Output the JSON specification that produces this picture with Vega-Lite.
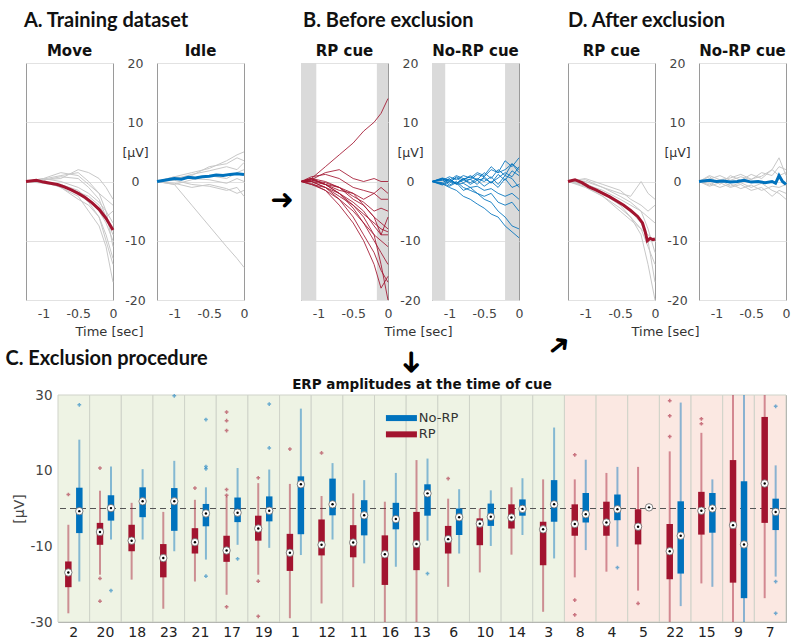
{
"$schema":"https://vega.github.io/schema/vega-lite/v6.json",
"background":"white",
"padding":{"left":5,"top":10,"right":0,"bottom":0},
"config":{
 "view":{"stroke":"#9a9a9a"},
 "font":"DejaVu Sans",
 "axis":{"labelFont":"DejaVu Sans","titleFont":"DejaVu Sans","labelColor":"#444","titleColor":"#333","ticks":false,"tickSize":0,"domain":false,"titleFontWeight":"normal","gridColor":"#e2e2e2","labelOverlap":false,"labelFlush":false,"labelExpr":"toString(datum.value)"},
 "title":{"font":"DejaVu Sans","color":"#111"}
},
"datasets":{
"sh":[{"p":"B1","t":-1.25,"t2":-1.03},{"p":"B1","t":-0.16,"t2":0},{"p":"B2","t":-1.25,"t2":-1.06},{"p":"B2","t":-0.2,"t2":0}],
"tr":[
{"p":"A1","k":"g1","t":-1.25,"v":0},{"p":"A1","k":"g1","t":-1,"v":0.5},{"p":"A1","k":"g1","t":-0.75,"v":1.5},{"p":"A1","k":"g1","t":-0.5,"v":1},{"p":"A1","k":"g1","t":-0.35,"v":-0.5},{"p":"A1","k":"g1","t":-0.2,"v":-2},{"p":"A1","k":"g1","t":-0.1,"v":-3},{"p":"A1","k":"g1","t":0,"v":-4},
{"p":"A1","k":"g2","t":-1.25,"v":0},{"p":"A1","k":"g2","t":-1,"v":0.3},{"p":"A1","k":"g2","t":-0.75,"v":0.5},{"p":"A1","k":"g2","t":-0.5,"v":2},{"p":"A1","k":"g2","t":-0.35,"v":1.5},{"p":"A1","k":"g2","t":-0.2,"v":0.5},{"p":"A1","k":"g2","t":-0.1,"v":-1},{"p":"A1","k":"g2","t":0,"v":-3},
{"p":"A1","k":"g3","t":-1.25,"v":0},{"p":"A1","k":"g3","t":-1,"v":0},{"p":"A1","k":"g3","t":-0.75,"v":-0.5},{"p":"A1","k":"g3","t":-0.5,"v":-1.5},{"p":"A1","k":"g3","t":-0.35,"v":-3},{"p":"A1","k":"g3","t":-0.2,"v":-5},{"p":"A1","k":"g3","t":-0.1,"v":-7},{"p":"A1","k":"g3","t":0,"v":-10},
{"p":"A1","k":"g4","t":-1.25,"v":0},{"p":"A1","k":"g4","t":-1,"v":0.2},{"p":"A1","k":"g4","t":-0.75,"v":-1},{"p":"A1","k":"g4","t":-0.5,"v":-3},{"p":"A1","k":"g4","t":-0.35,"v":-4},{"p":"A1","k":"g4","t":-0.2,"v":-6},{"p":"A1","k":"g4","t":-0.1,"v":-9},{"p":"A1","k":"g4","t":0,"v":-13},
{"p":"A1","k":"g5","t":-1.25,"v":0},{"p":"A1","k":"g5","t":-1,"v":-0.3},{"p":"A1","k":"g5","t":-0.75,"v":-0.8},{"p":"A1","k":"g5","t":-0.5,"v":-2},{"p":"A1","k":"g5","t":-0.35,"v":-3.5},{"p":"A1","k":"g5","t":-0.2,"v":-6},{"p":"A1","k":"g5","t":-0.1,"v":-10},{"p":"A1","k":"g5","t":0,"v":-14},
{"p":"A1","k":"g6","t":-1.25,"v":0},{"p":"A1","k":"g6","t":-1,"v":0.5},{"p":"A1","k":"g6","t":-0.75,"v":0},{"p":"A1","k":"g6","t":-0.5,"v":-1},{"p":"A1","k":"g6","t":-0.35,"v":-2},{"p":"A1","k":"g6","t":-0.2,"v":-3.5},{"p":"A1","k":"g6","t":-0.1,"v":-5},{"p":"A1","k":"g6","t":0,"v":-7},
{"p":"A1","k":"g7","t":-1.25,"v":0},{"p":"A1","k":"g7","t":-1,"v":0},{"p":"A1","k":"g7","t":-0.75,"v":-1},{"p":"A1","k":"g7","t":-0.5,"v":-2.5},{"p":"A1","k":"g7","t":-0.35,"v":-5},{"p":"A1","k":"g7","t":-0.2,"v":-7.5},{"p":"A1","k":"g7","t":-0.1,"v":-11},{"p":"A1","k":"g7","t":0,"v":-17},
{"p":"A1","k":"g8","t":-1.25,"v":0},{"p":"A1","k":"g8","t":-1,"v":0.2},{"p":"A1","k":"g8","t":-0.75,"v":0.8},{"p":"A1","k":"g8","t":-0.5,"v":0.5},{"p":"A1","k":"g8","t":-0.35,"v":-1},{"p":"A1","k":"g8","t":-0.2,"v":-3},{"p":"A1","k":"g8","t":-0.1,"v":-6},{"p":"A1","k":"g8","t":0,"v":-9},
{"p":"A1","k":"g9","t":-1.25,"v":0},{"p":"A1","k":"g9","t":-1,"v":-0.2},{"p":"A1","k":"g9","t":-0.75,"v":-0.5},{"p":"A1","k":"g9","t":-0.5,"v":-1.8},{"p":"A1","k":"g9","t":-0.35,"v":-2.5},{"p":"A1","k":"g9","t":-0.2,"v":-4},{"p":"A1","k":"g9","t":-0.1,"v":-6},{"p":"A1","k":"g9","t":0,"v":-5},
{"p":"A1","k":"g10","t":-1.25,"v":0},{"p":"A1","k":"g10","t":-1,"v":0.4},{"p":"A1","k":"g10","t":-0.75,"v":1},{"p":"A1","k":"g10","t":-0.5,"v":1.5},{"p":"A1","k":"g10","t":-0.35,"v":0},{"p":"A1","k":"g10","t":-0.2,"v":-2},{"p":"A1","k":"g10","t":-0.1,"v":-5},{"p":"A1","k":"g10","t":0,"v":-11},
{"p":"A1","k":"m","t":-1.25,"v":0},{"p":"A1","k":"m","t":-1.1,"v":0.2},{"p":"A1","k":"m","t":-1,"v":-0.1},{"p":"A1","k":"m","t":-0.9,"v":-0.3},{"p":"A1","k":"m","t":-0.8,"v":-0.5},{"p":"A1","k":"m","t":-0.7,"v":-0.9},{"p":"A1","k":"m","t":-0.6,"v":-1.4},{"p":"A1","k":"m","t":-0.5,"v":-2},{"p":"A1","k":"m","t":-0.4,"v":-2.7},{"p":"A1","k":"m","t":-0.3,"v":-3.6},{"p":"A1","k":"m","t":-0.2,"v":-4.7},{"p":"A1","k":"m","t":-0.1,"v":-6.2},{"p":"A1","k":"m","t":0,"v":-8.2},
{"p":"A2","k":"h1","t":-1.25,"v":0},{"p":"A2","k":"h1","t":-1,"v":0.8},{"p":"A2","k":"h1","t":-0.75,"v":1.5},{"p":"A2","k":"h1","t":-0.5,"v":2.2},{"p":"A2","k":"h1","t":-0.25,"v":3.5},{"p":"A2","k":"h1","t":-0.1,"v":4.5},{"p":"A2","k":"h1","t":0,"v":5},
{"p":"A2","k":"h2","t":-1.25,"v":0},{"p":"A2","k":"h2","t":-1,"v":0.5},{"p":"A2","k":"h2","t":-0.75,"v":1},{"p":"A2","k":"h2","t":-0.5,"v":2.5},{"p":"A2","k":"h2","t":-0.25,"v":3},{"p":"A2","k":"h2","t":-0.1,"v":4},{"p":"A2","k":"h2","t":0,"v":3.5},
{"p":"A2","k":"h3","t":-1.25,"v":0},{"p":"A2","k":"h3","t":-1,"v":-0.5},{"p":"A2","k":"h3","t":-0.75,"v":0.3},{"p":"A2","k":"h3","t":-0.5,"v":1},{"p":"A2","k":"h3","t":-0.25,"v":0.5},{"p":"A2","k":"h3","t":-0.1,"v":1.5},{"p":"A2","k":"h3","t":0,"v":2},
{"p":"A2","k":"h4","t":-1.25,"v":0},{"p":"A2","k":"h4","t":-1,"v":0.2},{"p":"A2","k":"h4","t":-0.75,"v":-0.5},{"p":"A2","k":"h4","t":-0.5,"v":-0.8},{"p":"A2","k":"h4","t":-0.25,"v":-1.5},{"p":"A2","k":"h4","t":-0.1,"v":-1},{"p":"A2","k":"h4","t":0,"v":-2.5},
{"p":"A2","k":"h5","t":-1.25,"v":0},{"p":"A2","k":"h5","t":-1,"v":0.8},{"p":"A2","k":"h5","t":-0.75,"v":0.5},{"p":"A2","k":"h5","t":-0.5,"v":0.3},{"p":"A2","k":"h5","t":-0.25,"v":-0.3},{"p":"A2","k":"h5","t":-0.1,"v":0.5},{"p":"A2","k":"h5","t":0,"v":0},
{"p":"A2","k":"h6","t":-1.25,"v":0},{"p":"A2","k":"h6","t":-1,"v":0.4},{"p":"A2","k":"h6","t":-0.75,"v":1.2},{"p":"A2","k":"h6","t":-0.5,"v":1.8},{"p":"A2","k":"h6","t":-0.25,"v":2.5},{"p":"A2","k":"h6","t":-0.1,"v":2},{"p":"A2","k":"h6","t":0,"v":3.2},
{"p":"A2","k":"h7","t":-1.25,"v":0},{"p":"A2","k":"h7","t":-1,"v":-0.3},{"p":"A2","k":"h7","t":-0.75,"v":-1},{"p":"A2","k":"h7","t":-0.5,"v":-0.5},{"p":"A2","k":"h7","t":-0.25,"v":-1.2},{"p":"A2","k":"h7","t":-0.1,"v":-2},{"p":"A2","k":"h7","t":0,"v":-1.5},
{"p":"A2","k":"h8","t":-1.25,"v":0},{"p":"A2","k":"h8","t":-1,"v":-0.5},{"p":"A2","k":"h8","t":-0.75,"v":-4},{"p":"A2","k":"h8","t":-0.5,"v":-7.5},{"p":"A2","k":"h8","t":-0.25,"v":-11},{"p":"A2","k":"h8","t":-0.1,"v":-13},{"p":"A2","k":"h8","t":0,"v":-14.5},
{"p":"A2","k":"m","t":-1.25,"v":0},{"p":"A2","k":"m","t":-1.1,"v":0.3},{"p":"A2","k":"m","t":-1,"v":0.5},{"p":"A2","k":"m","t":-0.9,"v":0.4},{"p":"A2","k":"m","t":-0.8,"v":0.7},{"p":"A2","k":"m","t":-0.7,"v":0.6},{"p":"A2","k":"m","t":-0.6,"v":0.8},{"p":"A2","k":"m","t":-0.5,"v":0.9},{"p":"A2","k":"m","t":-0.4,"v":1.1},{"p":"A2","k":"m","t":-0.3,"v":1},{"p":"A2","k":"m","t":-0.2,"v":1.2},{"p":"A2","k":"m","t":-0.1,"v":1.3},{"p":"A2","k":"m","t":0,"v":1.2},
{"p":"B1","k":"u","t":-1.25,"v":0},{"p":"B1","k":"u","t":-1.1,"v":0.5},{"p":"B1","k":"u","t":-0.9,"v":2.5},{"p":"B1","k":"u","t":-0.7,"v":4.5},{"p":"B1","k":"u","t":-0.5,"v":6.5},{"p":"B1","k":"u","t":-0.35,"v":8.5},{"p":"B1","k":"u","t":-0.2,"v":10},{"p":"B1","k":"u","t":-0.1,"v":11.5},{"p":"B1","k":"u","t":0,"v":14},
{"p":"B1","k":"a","t":-1.25,"v":0},{"p":"B1","k":"a","t":-1.1,"v":0.3},{"p":"B1","k":"a","t":-0.9,"v":1.5},{"p":"B1","k":"a","t":-0.7,"v":2},{"p":"B1","k":"a","t":-0.5,"v":0.5},{"p":"B1","k":"a","t":-0.35,"v":0},{"p":"B1","k":"a","t":-0.2,"v":0.5},{"p":"B1","k":"a","t":-0.1,"v":0},{"p":"B1","k":"a","t":0,"v":0},
{"p":"B1","k":"b","t":-1.25,"v":0},{"p":"B1","k":"b","t":-1.1,"v":0},{"p":"B1","k":"b","t":-0.9,"v":-0.5},{"p":"B1","k":"b","t":-0.7,"v":-1.5},{"p":"B1","k":"b","t":-0.5,"v":-2},{"p":"B1","k":"b","t":-0.35,"v":-3},{"p":"B1","k":"b","t":-0.2,"v":-2},{"p":"B1","k":"b","t":-0.1,"v":-3},{"p":"B1","k":"b","t":0,"v":-3},
{"p":"B1","k":"c","t":-1.25,"v":0},{"p":"B1","k":"c","t":-1.1,"v":0.5},{"p":"B1","k":"c","t":-0.9,"v":-0.5},{"p":"B1","k":"c","t":-0.7,"v":-1},{"p":"B1","k":"c","t":-0.5,"v":-2.5},{"p":"B1","k":"c","t":-0.35,"v":-3.5},{"p":"B1","k":"c","t":-0.2,"v":-5},{"p":"B1","k":"c","t":-0.1,"v":-4.5},{"p":"B1","k":"c","t":0,"v":-5},
{"p":"B1","k":"d","t":-1.25,"v":0},{"p":"B1","k":"d","t":-1.1,"v":-0.5},{"p":"B1","k":"d","t":-0.9,"v":-1},{"p":"B1","k":"d","t":-0.7,"v":-2.5},{"p":"B1","k":"d","t":-0.5,"v":-4},{"p":"B1","k":"d","t":-0.35,"v":-5.5},{"p":"B1","k":"d","t":-0.2,"v":-7},{"p":"B1","k":"d","t":-0.1,"v":-8},{"p":"B1","k":"d","t":0,"v":-8.5},
{"p":"B1","k":"e","t":-1.25,"v":0},{"p":"B1","k":"e","t":-1.1,"v":0},{"p":"B1","k":"e","t":-0.9,"v":-1},{"p":"B1","k":"e","t":-0.7,"v":-2},{"p":"B1","k":"e","t":-0.5,"v":-3.5},{"p":"B1","k":"e","t":-0.35,"v":-5},{"p":"B1","k":"e","t":-0.2,"v":-7.5},{"p":"B1","k":"e","t":-0.1,"v":-9},{"p":"B1","k":"e","t":0,"v":-9},
{"p":"B1","k":"f","t":-1.25,"v":0},{"p":"B1","k":"f","t":-1.1,"v":0.3},{"p":"B1","k":"f","t":-0.9,"v":-0.5},{"p":"B1","k":"f","t":-0.7,"v":-2},{"p":"B1","k":"f","t":-0.5,"v":-4.5},{"p":"B1","k":"f","t":-0.35,"v":-7},{"p":"B1","k":"f","t":-0.2,"v":-9},{"p":"B1","k":"f","t":-0.1,"v":-10},{"p":"B1","k":"f","t":0,"v":-11},
{"p":"B1","k":"g","t":-1.25,"v":0},{"p":"B1","k":"g","t":-1.1,"v":-0.3},{"p":"B1","k":"g","t":-0.9,"v":-1.5},{"p":"B1","k":"g","t":-0.7,"v":-3},{"p":"B1","k":"g","t":-0.5,"v":-5},{"p":"B1","k":"g","t":-0.35,"v":-7},{"p":"B1","k":"g","t":-0.2,"v":-10},{"p":"B1","k":"g","t":-0.1,"v":-12},{"p":"B1","k":"g","t":0,"v":-14},
{"p":"B1","k":"h","t":-1.25,"v":0},{"p":"B1","k":"h","t":-1.1,"v":0},{"p":"B1","k":"h","t":-0.9,"v":-1},{"p":"B1","k":"h","t":-0.7,"v":-3},{"p":"B1","k":"h","t":-0.5,"v":-6},{"p":"B1","k":"h","t":-0.35,"v":-9},{"p":"B1","k":"h","t":-0.2,"v":-12},{"p":"B1","k":"h","t":-0.1,"v":-15},{"p":"B1","k":"h","t":0,"v":-17},
{"p":"B1","k":"i","t":-1.25,"v":0},{"p":"B1","k":"i","t":-1.1,"v":0.5},{"p":"B1","k":"i","t":-0.9,"v":-0.5},{"p":"B1","k":"i","t":-0.7,"v":-2},{"p":"B1","k":"i","t":-0.5,"v":-4},{"p":"B1","k":"i","t":-0.35,"v":-6},{"p":"B1","k":"i","t":-0.2,"v":-9},{"p":"B1","k":"i","t":-0.1,"v":-14},{"p":"B1","k":"i","t":0,"v":-20},
{"p":"B1","k":"j","t":-1.25,"v":0},{"p":"B1","k":"j","t":-1.1,"v":-0.5},{"p":"B1","k":"j","t":-0.9,"v":-1.5},{"p":"B1","k":"j","t":-0.7,"v":-4},{"p":"B1","k":"j","t":-0.5,"v":-7},{"p":"B1","k":"j","t":-0.35,"v":-10},{"p":"B1","k":"j","t":-0.2,"v":-14},{"p":"B1","k":"j","t":-0.1,"v":-18},{"p":"B1","k":"j","t":0,"v":-16},
{"p":"B1","k":"k","t":-1.25,"v":0},{"p":"B1","k":"k","t":-1.1,"v":0.2},{"p":"B1","k":"k","t":-0.9,"v":-0.2},{"p":"B1","k":"k","t":-0.7,"v":-1},{"p":"B1","k":"k","t":-0.5,"v":-2},{"p":"B1","k":"k","t":-0.35,"v":-4},{"p":"B1","k":"k","t":-0.2,"v":-6},{"p":"B1","k":"k","t":-0.1,"v":-9},{"p":"B1","k":"k","t":0,"v":-6},
{"p":"B1","k":"l","t":-1.25,"v":0},{"p":"B1","k":"l","t":-1.1,"v":0.5},{"p":"B1","k":"l","t":-0.9,"v":0},{"p":"B1","k":"l","t":-0.7,"v":-1},{"p":"B1","k":"l","t":-0.5,"v":-3},{"p":"B1","k":"l","t":-0.35,"v":-4},{"p":"B1","k":"l","t":-0.2,"v":-6},{"p":"B1","k":"l","t":-0.1,"v":-7},{"p":"B1","k":"l","t":0,"v":-8},
{"p":"B1","k":"q","t":-1.25,"v":0},{"p":"B1","k":"q","t":-1.1,"v":0.8},{"p":"B1","k":"q","t":-0.9,"v":1.2},{"p":"B1","k":"q","t":-0.7,"v":0.5},{"p":"B1","k":"q","t":-0.5,"v":-1},{"p":"B1","k":"q","t":-0.35,"v":-1.5},{"p":"B1","k":"q","t":-0.2,"v":-2},{"p":"B1","k":"q","t":-0.1,"v":-1},{"p":"B1","k":"q","t":0,"v":-2},
{"p":"B2","k":"n1","t":-1.25,"v":0},{"p":"B2","k":"n1","t":-1.1,"v":0.5},{"p":"B2","k":"n1","t":-1,"v":-0.3},{"p":"B2","k":"n1","t":-0.9,"v":0.8},{"p":"B2","k":"n1","t":-0.8,"v":0.2},{"p":"B2","k":"n1","t":-0.7,"v":1},{"p":"B2","k":"n1","t":-0.6,"v":0.3},{"p":"B2","k":"n1","t":-0.5,"v":1.5},{"p":"B2","k":"n1","t":-0.4,"v":0.5},{"p":"B2","k":"n1","t":-0.3,"v":2},{"p":"B2","k":"n1","t":-0.2,"v":1},{"p":"B2","k":"n1","t":-0.1,"v":3},{"p":"B2","k":"n1","t":0,"v":2},
{"p":"B2","k":"n2","t":-1.25,"v":0},{"p":"B2","k":"n2","t":-1.1,"v":-0.5},{"p":"B2","k":"n2","t":-1,"v":0.4},{"p":"B2","k":"n2","t":-0.9,"v":-0.3},{"p":"B2","k":"n2","t":-0.8,"v":0.5},{"p":"B2","k":"n2","t":-0.7,"v":-0.5},{"p":"B2","k":"n2","t":-0.6,"v":0.2},{"p":"B2","k":"n2","t":-0.5,"v":-0.8},{"p":"B2","k":"n2","t":-0.4,"v":0},{"p":"B2","k":"n2","t":-0.3,"v":-1},{"p":"B2","k":"n2","t":-0.2,"v":0.5},{"p":"B2","k":"n2","t":-0.1,"v":-1},{"p":"B2","k":"n2","t":0,"v":-0.5},
{"p":"B2","k":"n3","t":-1.25,"v":0},{"p":"B2","k":"n3","t":-1.1,"v":0.3},{"p":"B2","k":"n3","t":-1,"v":-0.6},{"p":"B2","k":"n3","t":-0.9,"v":0},{"p":"B2","k":"n3","t":-0.8,"v":-1},{"p":"B2","k":"n3","t":-0.7,"v":-1.5},{"p":"B2","k":"n3","t":-0.6,"v":-2},{"p":"B2","k":"n3","t":-0.5,"v":-3},{"p":"B2","k":"n3","t":-0.4,"v":-3.5},{"p":"B2","k":"n3","t":-0.3,"v":-5},{"p":"B2","k":"n3","t":-0.2,"v":-6},{"p":"B2","k":"n3","t":-0.1,"v":-7.5},{"p":"B2","k":"n3","t":0,"v":-8},
{"p":"B2","k":"n4","t":-1.25,"v":0},{"p":"B2","k":"n4","t":-1.1,"v":-0.4},{"p":"B2","k":"n4","t":-1,"v":-1},{"p":"B2","k":"n4","t":-0.9,"v":-1.5},{"p":"B2","k":"n4","t":-0.8,"v":-2.5},{"p":"B2","k":"n4","t":-0.7,"v":-3},{"p":"B2","k":"n4","t":-0.6,"v":-3.8},{"p":"B2","k":"n4","t":-0.5,"v":-4.5},{"p":"B2","k":"n4","t":-0.4,"v":-5.5},{"p":"B2","k":"n4","t":-0.3,"v":-6},{"p":"B2","k":"n4","t":-0.2,"v":-7.5},{"p":"B2","k":"n4","t":-0.1,"v":-8.5},{"p":"B2","k":"n4","t":0,"v":-9.5},
{"p":"B2","k":"n5","t":-1.25,"v":0},{"p":"B2","k":"n5","t":-1.1,"v":0.6},{"p":"B2","k":"n5","t":-1,"v":0.2},{"p":"B2","k":"n5","t":-0.9,"v":1},{"p":"B2","k":"n5","t":-0.8,"v":0.5},{"p":"B2","k":"n5","t":-0.7,"v":0.3},{"p":"B2","k":"n5","t":-0.6,"v":1.2},{"p":"B2","k":"n5","t":-0.5,"v":0.8},{"p":"B2","k":"n5","t":-0.4,"v":2},{"p":"B2","k":"n5","t":-0.3,"v":1.5},{"p":"B2","k":"n5","t":-0.2,"v":3.5},{"p":"B2","k":"n5","t":-0.1,"v":2.5},{"p":"B2","k":"n5","t":0,"v":4},
{"p":"B2","k":"n6","t":-1.25,"v":0},{"p":"B2","k":"n6","t":-1.1,"v":-0.2},{"p":"B2","k":"n6","t":-1,"v":0.5},{"p":"B2","k":"n6","t":-0.9,"v":-0.5},{"p":"B2","k":"n6","t":-0.8,"v":-0.3},{"p":"B2","k":"n6","t":-0.7,"v":-1},{"p":"B2","k":"n6","t":-0.6,"v":-0.8},{"p":"B2","k":"n6","t":-0.5,"v":-1.5},{"p":"B2","k":"n6","t":-0.4,"v":-1.2},{"p":"B2","k":"n6","t":-0.3,"v":-2},{"p":"B2","k":"n6","t":-0.2,"v":-2.5},{"p":"B2","k":"n6","t":-0.1,"v":-2},{"p":"B2","k":"n6","t":0,"v":-3},
{"p":"B2","k":"n7","t":-1.25,"v":0},{"p":"B2","k":"n7","t":-1.1,"v":0.4},{"p":"B2","k":"n7","t":-1,"v":0},{"p":"B2","k":"n7","t":-0.9,"v":0.6},{"p":"B2","k":"n7","t":-0.8,"v":-0.2},{"p":"B2","k":"n7","t":-0.7,"v":0.4},{"p":"B2","k":"n7","t":-0.6,"v":-0.5},{"p":"B2","k":"n7","t":-0.5,"v":0.8},{"p":"B2","k":"n7","t":-0.4,"v":-0.3},{"p":"B2","k":"n7","t":-0.3,"v":1.2},{"p":"B2","k":"n7","t":-0.2,"v":0.2},{"p":"B2","k":"n7","t":-0.1,"v":1.8},{"p":"B2","k":"n7","t":0,"v":1},
{"p":"B2","k":"n8","t":-1.25,"v":0},{"p":"B2","k":"n8","t":-1.1,"v":-0.3},{"p":"B2","k":"n8","t":-1,"v":-0.8},{"p":"B2","k":"n8","t":-0.9,"v":-0.2},{"p":"B2","k":"n8","t":-0.8,"v":-1.5},{"p":"B2","k":"n8","t":-0.7,"v":-1},{"p":"B2","k":"n8","t":-0.6,"v":-2},{"p":"B2","k":"n8","t":-0.5,"v":-2.5},{"p":"B2","k":"n8","t":-0.4,"v":-2},{"p":"B2","k":"n8","t":-0.3,"v":-3.5},{"p":"B2","k":"n8","t":-0.2,"v":-4},{"p":"B2","k":"n8","t":-0.1,"v":-3.5},{"p":"B2","k":"n8","t":0,"v":-5},
{"p":"B2","k":"n9","t":-1.25,"v":0},{"p":"B2","k":"n9","t":-1.1,"v":0.2},{"p":"B2","k":"n9","t":-1,"v":0.8},{"p":"B2","k":"n9","t":-0.9,"v":0.3},{"p":"B2","k":"n9","t":-0.8,"v":1},{"p":"B2","k":"n9","t":-0.7,"v":0.6},{"p":"B2","k":"n9","t":-0.6,"v":1.5},{"p":"B2","k":"n9","t":-0.5,"v":1},{"p":"B2","k":"n9","t":-0.4,"v":2.5},{"p":"B2","k":"n9","t":-0.3,"v":1.5},{"p":"B2","k":"n9","t":-0.2,"v":2},{"p":"B2","k":"n9","t":-0.1,"v":3},{"p":"B2","k":"n9","t":0,"v":1.5},
{"p":"B2","k":"n10","t":-1.25,"v":0},{"p":"B2","k":"n10","t":-1.1,"v":-0.6},{"p":"B2","k":"n10","t":-1,"v":0},{"p":"B2","k":"n10","t":-0.9,"v":-0.4},{"p":"B2","k":"n10","t":-0.8,"v":0.3},{"p":"B2","k":"n10","t":-0.7,"v":-0.2},{"p":"B2","k":"n10","t":-0.6,"v":0.5},{"p":"B2","k":"n10","t":-0.5,"v":0},{"p":"B2","k":"n10","t":-0.4,"v":0.8},{"p":"B2","k":"n10","t":-0.3,"v":-0.5},{"p":"B2","k":"n10","t":-0.2,"v":1},{"p":"B2","k":"n10","t":-0.1,"v":0.5},{"p":"B2","k":"n10","t":0,"v":-1},
{"p":"B2","k":"n11","t":-1.25,"v":0},{"p":"B2","k":"n11","t":-1.1,"v":0.5},{"p":"B2","k":"n11","t":-1,"v":0.2},{"p":"B2","k":"n11","t":-0.9,"v":-0.3},{"p":"B2","k":"n11","t":-0.8,"v":0.4},{"p":"B2","k":"n11","t":-0.7,"v":0.8},{"p":"B2","k":"n11","t":-0.6,"v":0.2},{"p":"B2","k":"n11","t":-0.5,"v":0.5},{"p":"B2","k":"n11","t":-0.4,"v":-0.2},{"p":"B2","k":"n11","t":-0.3,"v":0.6},{"p":"B2","k":"n11","t":-0.2,"v":1.5},{"p":"B2","k":"n11","t":-0.1,"v":0.8},{"p":"B2","k":"n11","t":0,"v":2.5},
{"p":"D1","k":"d1","t":-1.25,"v":0},{"p":"D1","k":"d1","t":-1,"v":-0.5},{"p":"D1","k":"d1","t":-0.75,"v":-1.5},{"p":"D1","k":"d1","t":-0.5,"v":-3},{"p":"D1","k":"d1","t":-0.35,"v":-4},{"p":"D1","k":"d1","t":-0.2,"v":-5},{"p":"D1","k":"d1","t":-0.1,"v":-6},{"p":"D1","k":"d1","t":0,"v":-7},
{"p":"D1","k":"d2","t":-1.25,"v":0},{"p":"D1","k":"d2","t":-1,"v":0.3},{"p":"D1","k":"d2","t":-0.75,"v":-1},{"p":"D1","k":"d2","t":-0.5,"v":-2},{"p":"D1","k":"d2","t":-0.35,"v":-2.5},{"p":"D1","k":"d2","t":-0.2,"v":0},{"p":"D1","k":"d2","t":-0.1,"v":-2},{"p":"D1","k":"d2","t":0,"v":-3},
{"p":"D1","k":"d3","t":-1.25,"v":0},{"p":"D1","k":"d3","t":-1,"v":-1},{"p":"D1","k":"d3","t":-0.75,"v":-2.5},{"p":"D1","k":"d3","t":-0.5,"v":-4.5},{"p":"D1","k":"d3","t":-0.35,"v":-6},{"p":"D1","k":"d3","t":-0.2,"v":-8},{"p":"D1","k":"d3","t":-0.1,"v":-11},{"p":"D1","k":"d3","t":0,"v":-14},
{"p":"D1","k":"d4","t":-1.25,"v":0},{"p":"D1","k":"d4","t":-1,"v":-0.5},{"p":"D1","k":"d4","t":-0.75,"v":-2},{"p":"D1","k":"d4","t":-0.5,"v":-4},{"p":"D1","k":"d4","t":-0.35,"v":-6},{"p":"D1","k":"d4","t":-0.2,"v":-9},{"p":"D1","k":"d4","t":-0.1,"v":-14},{"p":"D1","k":"d4","t":0,"v":-20},
{"p":"D1","k":"d5","t":-1.25,"v":0},{"p":"D1","k":"d5","t":-1,"v":0},{"p":"D1","k":"d5","t":-0.75,"v":-1},{"p":"D1","k":"d5","t":-0.5,"v":-2.5},{"p":"D1","k":"d5","t":-0.35,"v":-3.5},{"p":"D1","k":"d5","t":-0.2,"v":-5},{"p":"D1","k":"d5","t":-0.1,"v":-8},{"p":"D1","k":"d5","t":0,"v":-12},
{"p":"D1","k":"d6","t":-1.25,"v":0},{"p":"D1","k":"d6","t":-1,"v":-0.8},{"p":"D1","k":"d6","t":-0.75,"v":-2.5},{"p":"D1","k":"d6","t":-0.5,"v":-5},{"p":"D1","k":"d6","t":-0.35,"v":-6.5},{"p":"D1","k":"d6","t":-0.2,"v":-8},{"p":"D1","k":"d6","t":-0.1,"v":-9},{"p":"D1","k":"d6","t":0,"v":-10},
{"p":"D1","k":"d7","t":-1.25,"v":0},{"p":"D1","k":"d7","t":-1,"v":0.5},{"p":"D1","k":"d7","t":-0.75,"v":-0.5},{"p":"D1","k":"d7","t":-0.5,"v":-1.5},{"p":"D1","k":"d7","t":-0.35,"v":-3},{"p":"D1","k":"d7","t":-0.2,"v":-4},{"p":"D1","k":"d7","t":-0.1,"v":-5},{"p":"D1","k":"d7","t":0,"v":-4},
{"p":"D1","k":"d8","t":-1.25,"v":0},{"p":"D1","k":"d8","t":-1,"v":-0.3},{"p":"D1","k":"d8","t":-0.75,"v":-1.8},{"p":"D1","k":"d8","t":-0.5,"v":-3.5},{"p":"D1","k":"d8","t":-0.35,"v":-5},{"p":"D1","k":"d8","t":-0.2,"v":-7},{"p":"D1","k":"d8","t":-0.1,"v":-10},{"p":"D1","k":"d8","t":0,"v":-17},
{"p":"D1","k":"m","t":-1.25,"v":0},{"p":"D1","k":"m","t":-1.15,"v":0.3},{"p":"D1","k":"m","t":-1.05,"v":-0.2},{"p":"D1","k":"m","t":-0.95,"v":-0.9},{"p":"D1","k":"m","t":-0.85,"v":-1.4},{"p":"D1","k":"m","t":-0.75,"v":-2},{"p":"D1","k":"m","t":-0.65,"v":-2.6},{"p":"D1","k":"m","t":-0.55,"v":-3.3},{"p":"D1","k":"m","t":-0.45,"v":-4},{"p":"D1","k":"m","t":-0.35,"v":-4.9},{"p":"D1","k":"m","t":-0.25,"v":-5.9},{"p":"D1","k":"m","t":-0.18,"v":-7},{"p":"D1","k":"m","t":-0.14,"v":-8.5},{"p":"D1","k":"m","t":-0.11,"v":-10},{"p":"D1","k":"m","t":-0.07,"v":-9.6},{"p":"D1","k":"m","t":-0.03,"v":-9.8},{"p":"D1","k":"m","t":0,"v":-9.7},
{"p":"D2","k":"e1","t":-1.25,"v":0},{"p":"D2","k":"e1","t":-1.1,"v":0.8},{"p":"D2","k":"e1","t":-0.95,"v":-0.5},{"p":"D2","k":"e1","t":-0.8,"v":1},{"p":"D2","k":"e1","t":-0.65,"v":0.2},{"p":"D2","k":"e1","t":-0.5,"v":1.2},{"p":"D2","k":"e1","t":-0.35,"v":0.5},{"p":"D2","k":"e1","t":-0.2,"v":2},{"p":"D2","k":"e1","t":-0.1,"v":4},{"p":"D2","k":"e1","t":0,"v":1},
{"p":"D2","k":"e2","t":-1.25,"v":0},{"p":"D2","k":"e2","t":-1.1,"v":-0.6},{"p":"D2","k":"e2","t":-0.95,"v":0.3},{"p":"D2","k":"e2","t":-0.8,"v":-0.8},{"p":"D2","k":"e2","t":-0.65,"v":-0.2},{"p":"D2","k":"e2","t":-0.5,"v":-1},{"p":"D2","k":"e2","t":-0.35,"v":-0.3},{"p":"D2","k":"e2","t":-0.2,"v":-1.5},{"p":"D2","k":"e2","t":-0.1,"v":-2},{"p":"D2","k":"e2","t":0,"v":-3},
{"p":"D2","k":"e3","t":-1.25,"v":0},{"p":"D2","k":"e3","t":-1.1,"v":0.4},{"p":"D2","k":"e3","t":-0.95,"v":1},{"p":"D2","k":"e3","t":-0.8,"v":0.2},{"p":"D2","k":"e3","t":-0.65,"v":0.8},{"p":"D2","k":"e3","t":-0.5,"v":0.3},{"p":"D2","k":"e3","t":-0.35,"v":1.5},{"p":"D2","k":"e3","t":-0.2,"v":1},{"p":"D2","k":"e3","t":-0.1,"v":2.5},{"p":"D2","k":"e3","t":0,"v":2},
{"p":"D2","k":"e4","t":-1.25,"v":0},{"p":"D2","k":"e4","t":-1.1,"v":-0.3},{"p":"D2","k":"e4","t":-0.95,"v":-1},{"p":"D2","k":"e4","t":-0.8,"v":-0.4},{"p":"D2","k":"e4","t":-0.65,"v":-1.2},{"p":"D2","k":"e4","t":-0.5,"v":-0.6},{"p":"D2","k":"e4","t":-0.35,"v":-1.5},{"p":"D2","k":"e4","t":-0.2,"v":-0.8},{"p":"D2","k":"e4","t":-0.1,"v":-1},{"p":"D2","k":"e4","t":0,"v":-0.5},
{"p":"D2","k":"e5","t":-1.25,"v":0},{"p":"D2","k":"e5","t":-1.1,"v":1},{"p":"D2","k":"e5","t":-0.95,"v":0.3},{"p":"D2","k":"e5","t":-0.8,"v":0.6},{"p":"D2","k":"e5","t":-0.65,"v":1.2},{"p":"D2","k":"e5","t":-0.5,"v":0.4},{"p":"D2","k":"e5","t":-0.35,"v":0.9},{"p":"D2","k":"e5","t":-0.2,"v":2},{"p":"D2","k":"e5","t":-0.1,"v":1},{"p":"D2","k":"e5","t":0,"v":1.5},
{"p":"D2","k":"e6","t":-1.25,"v":0},{"p":"D2","k":"e6","t":-1.1,"v":-0.8},{"p":"D2","k":"e6","t":-0.95,"v":-0.2},{"p":"D2","k":"e6","t":-0.8,"v":-1},{"p":"D2","k":"e6","t":-0.65,"v":-0.5},{"p":"D2","k":"e6","t":-0.5,"v":-1.5},{"p":"D2","k":"e6","t":-0.35,"v":-1},{"p":"D2","k":"e6","t":-0.2,"v":-2.5},{"p":"D2","k":"e6","t":-0.1,"v":-1.5},{"p":"D2","k":"e6","t":0,"v":-2},
{"p":"D2","k":"m","t":-1.25,"v":0},{"p":"D2","k":"m","t":-1.1,"v":0.2},{"p":"D2","k":"m","t":-1,"v":0},{"p":"D2","k":"m","t":-0.9,"v":0.1},{"p":"D2","k":"m","t":-0.8,"v":-0.1},{"p":"D2","k":"m","t":-0.7,"v":0},{"p":"D2","k":"m","t":-0.6,"v":0.2},{"p":"D2","k":"m","t":-0.5,"v":-0.1},{"p":"D2","k":"m","t":-0.4,"v":0},{"p":"D2","k":"m","t":-0.3,"v":-0.2},{"p":"D2","k":"m","t":-0.2,"v":0},{"p":"D2","k":"m","t":-0.15,"v":-0.3},{"p":"D2","k":"m","t":-0.1,"v":1},{"p":"D2","k":"m","t":-0.05,"v":0},{"p":"D2","k":"m","t":0,"v":-0.5}
],
"sj":[{"s":"2","e":"in"},{"s":"20","e":"in"},{"s":"18","e":"in"},{"s":"23","e":"in"},{"s":"21","e":"in"},{"s":"17","e":"in"},{"s":"19","e":"in"},{"s":"1","e":"in"},{"s":"12","e":"in"},{"s":"11","e":"in"},{"s":"16","e":"in"},{"s":"13","e":"in"},{"s":"6","e":"in"},{"s":"10","e":"in"},{"s":"14","e":"in"},{"s":"3","e":"in"},{"s":"8","e":"out"},{"s":"4","e":"out"},{"s":"5","e":"out"},{"s":"22","e":"out"},{"s":"15","e":"out"},{"s":"9","e":"out"},{"s":"7","e":"out"}],
"bx":[
{"s":"2","g":"RP","lo":-27.7,"q1":-20.8,"md":-16.9,"q3":-14,"hi":-4.3},{"s":"2","g":"No-RP","lo":-19.3,"q1":-6.5,"md":-0.7,"q3":5.5,"hi":18.2},
{"s":"20","g":"RP","lo":-17.5,"q1":-9.6,"md":-6.2,"q3":-3.8,"hi":4.7},{"s":"20","g":"No-RP","lo":-8.2,"q1":-3.2,"md":0.1,"q3":3.5,"hi":11.1},
{"s":"18","g":"RP","lo":-18.8,"q1":-11.3,"md":-8.5,"q3":-4.3,"hi":1.5},{"s":"18","g":"No-RP","lo":-8.2,"q1":-2.3,"md":1.9,"q3":5.6,"hi":10.4},
{"s":"23","g":"RP","lo":-26.5,"q1":-18.2,"md":-13.1,"q3":-9.4,"hi":-0.9},{"s":"23","g":"No-RP","lo":-11.3,"q1":-5.9,"md":1.9,"q3":5.4,"hi":12.6},
{"s":"21","g":"RP","lo":-19.3,"q1":-11.9,"md":-8.9,"q3":-5.2,"hi":2.3},{"s":"21","g":"No-RP","lo":-13.5,"q1":-4.7,"md":-1.3,"q3":1.2,"hi":5.6},
{"s":"17","g":"RP","lo":-22.8,"q1":-14.1,"md":-11.1,"q3":-7.2,"hi":3.2},{"s":"17","g":"No-RP","lo":-9.6,"q1":-3.6,"md":-1.1,"q3":2.9,"hi":10.7},
{"s":"19","g":"RP","lo":-17.5,"q1":-8.5,"md":-5.3,"q3":-1.9,"hi":6.7},{"s":"19","g":"No-RP","lo":-10.4,"q1":-3.4,"md":-0.6,"q3":3.2,"hi":10.3},
{"s":"1","g":"RP","lo":-29,"q1":-16.5,"md":-11.7,"q3":-6.7,"hi":6.5},{"s":"1","g":"No-RP","lo":-12.3,"q1":-6.8,"md":6.4,"q3":8.5,"hi":26.4},
{"s":"12","g":"RP","lo":-25.1,"q1":-12.4,"md":-9.6,"q3":-2.9,"hi":3.3},{"s":"12","g":"No-RP","lo":-8.2,"q1":-1.8,"md":1.1,"q3":7.9,"hi":12},
{"s":"11","g":"RP","lo":-20.8,"q1":-12.9,"md":-9,"q3":-4.4,"hi":4},{"s":"11","g":"No-RP","lo":-14.5,"q1":-7.1,"md":-1.8,"q3":2.2,"hi":7.5},
{"s":"16","g":"RP","lo":-30,"q1":-20.2,"md":-12.1,"q3":-7.1,"hi":1.8},{"s":"16","g":"No-RP","lo":-15.4,"q1":-5.5,"md":-2.8,"q3":1.5,"hi":9.4},
{"s":"13","g":"RP","lo":-30,"q1":-16.3,"md":-9.4,"q3":-0.9,"hi":12.8},{"s":"13","g":"No-RP","lo":-8.5,"q1":-1.9,"md":4,"q3":6.4,"hi":13.2},
{"s":"6","g":"RP","lo":-20.7,"q1":-11.9,"md":-8.1,"q3":-4.6,"hi":2.6},{"s":"6","g":"No-RP","lo":-11.9,"q1":-7,"md":-2.3,"q3":0,"hi":5.1},
{"s":"10","g":"RP","lo":-16.9,"q1":-9.7,"md":-4,"q3":-2.6,"hi":0},{"s":"10","g":"No-RP","lo":-9.9,"q1":-4.6,"md":-2.2,"q3":1.3,"hi":4.8},
{"s":"14","g":"RP","lo":-12.2,"q1":-5.3,"md":-2.4,"q3":1.1,"hi":5.6},{"s":"14","g":"No-RP","lo":-7,"q1":-1.9,"md":-0.1,"q3":2.4,"hi":8},
{"s":"3","g":"RP","lo":-27.3,"q1":-15,"md":-5.5,"q3":-3.5,"hi":7.7},{"s":"3","g":"No-RP","lo":-13.2,"q1":-3.5,"md":1.1,"q3":7.5,"hi":21.4},
{"s":"8","g":"RP","lo":-18.2,"q1":-7.2,"md":-4.1,"q3":1.1,"hi":7.7},{"s":"8","g":"No-RP","lo":-11,"q1":-3.7,"md":-1.5,"q3":4.1,"hi":12.9},
{"s":"4","g":"RP","lo":-16.7,"q1":-7.2,"md":-3.7,"q3":1.8,"hi":9.4},{"s":"4","g":"No-RP","lo":-10.1,"q1":-3.1,"md":-0.2,"q3":3.7,"hi":11},
{"s":"5","g":"RP","lo":-21.7,"q1":-9.5,"md":-4.8,"q3":-0.2,"hi":11},{"s":"5","g":"No-RP","lo":0.1,"q1":0.2,"md":0.3,"q3":0.4,"hi":0.5},
{"s":"22","g":"RP","lo":-30,"q1":-18.7,"md":-11.3,"q3":-4.1,"hi":15.1},{"s":"22","g":"No-RP","lo":-25.8,"q1":-17.2,"md":-7.2,"q3":1.9,"hi":28},
{"s":"15","g":"RP","lo":-19.8,"q1":-6.9,"md":-0.6,"q3":4.4,"hi":20},{"s":"15","g":"No-RP","lo":-20.7,"q1":-6.4,"md":0,"q3":4.1,"hi":7.7},
{"s":"9","g":"RP","lo":-30,"q1":-19.6,"md":-4.4,"q3":12.8,"hi":30},{"s":"9","g":"No-RP","lo":-30,"q1":-23.7,"md":-9.5,"q3":7.2,"hi":30},
{"s":"7","g":"RP","lo":-23.7,"q1":-3.8,"md":6.6,"q3":24.2,"hi":30},{"s":"7","g":"No-RP","lo":-18,"q1":-5.7,"md":-0.9,"q3":2.6,"hi":11.4}
],
"ol":[
{"s":"2","g":"RP","v":3.7},{"s":"2","g":"No-RP","v":27.4},
{"s":"20","g":"RP","v":10.7},{"s":"20","g":"RP","v":-18.5},{"s":"20","g":"RP","v":-24.5},{"s":"20","g":"No-RP","v":-21.7},
{"s":"23","g":"No-RP","v":29.8},
{"s":"21","g":"RP","v":5.4},{"s":"21","g":"No-RP","v":23.5},{"s":"21","g":"No-RP","v":11.1},{"s":"21","g":"No-RP","v":10.5},{"s":"21","g":"No-RP","v":-17.9},
{"s":"17","g":"RP","v":25.5},{"s":"17","g":"RP","v":23.2},{"s":"17","g":"RP","v":20.6},{"s":"17","g":"RP","v":5},{"s":"17","g":"RP","v":3.5},{"s":"17","g":"RP","v":-26},{"s":"17","g":"No-RP","v":-13.3},
{"s":"19","g":"RP","v":8.1},{"s":"19","g":"RP","v":-19.2},{"s":"19","g":"RP","v":-28.5},{"s":"19","g":"No-RP","v":27.6},{"s":"19","g":"No-RP","v":16},
{"s":"1","g":"RP","v":15.7},{"s":"12","g":"RP","v":14.7},{"s":"13","g":"No-RP","v":-17.2},{"s":"6","g":"RP","v":7.9},
{"s":"8","g":"RP","v":14.2},{"s":"8","g":"RP","v":-24.2},{"s":"8","g":"RP","v":-28.1},
{"s":"4","g":"No-RP","v":-15.6},{"s":"5","g":"RP","v":-25.1},
{"s":"22","g":"RP","v":28.5},{"s":"22","g":"RP","v":24.5},{"s":"22","g":"RP","v":19},
{"s":"15","g":"RP","v":22.4},{"s":"15","g":"RP","v":23.7},
{"s":"7","g":"No-RP","v":27},{"s":"7","g":"No-RP","v":-19.3},{"s":"7","g":"No-RP","v":-27.7}
]
},
"vconcat":[
{"hconcat":[
 {"width":87,"height":237,
  "layer":[
   {"data":{"name":"tr"},"transform":[{"filter":"datum.p=='A1' && datum.k!='m'"}],"mark":{"type":"line","color":"#c8c8c8","strokeWidth":1},
    "encoding":{"x":{"field":"t","type":"quantitative","scale":{"domain":[-1.25,0],"nice":false,"zero":false},"axis":{"values":[-1,-0.5,0],"labelFontSize":12.5,"labelPadding":7,"grid":false,"titleFontSize":13,"titleX":83,"titleY":31,"titleBaseline":"middle","titleAlign":"center"},"title":"Time [sec]"},
     "y":{"field":"v","type":"quantitative","scale":{"domain":[-20,20],"nice":false},"axis":{"values":[-20,-10,0,10,20],"labels":false,"grid":true},"title":null},"detail":{"field":"k"}}},
   {"data":{"name":"tr"},"transform":[{"filter":"datum.p=='A1' && datum.k=='m'"}],"mark":{"type":"line","color":"#A2142F","strokeWidth":3},
    "encoding":{"x":{"field":"t","type":"quantitative","title":"Time [sec]"},"y":{"field":"v","type":"quantitative","title":null}}},
   {"data":{"values":[{}]},"mark":{"type":"text","text":"A. Training dataset","align":"left","baseline":"middle","font":"Lato","fontSize":20,"fontWeight":"bold","color":"#111"},"encoding":{"x":{"datum":-1.28,"type":"quantitative"},"y":{"datum":27.1,"type":"quantitative"}}},
   {"data":{"values":[{}]},"mark":{"type":"text","text":"Move","align":"center","baseline":"middle","fontSize":15,"fontWeight":"bold","color":"#111"},"encoding":{"x":{"datum":-0.625,"type":"quantitative"},"y":{"datum":22,"type":"quantitative"}}}
  ]},
 {"data":{"values":[{}]},"mark":{"type":"text","text":""},"encoding":{},"width":44,"height":237,"view":{"stroke":null}},
 {"width":87,"height":237,
  "layer":[
   {"data":{"name":"tr"},"transform":[{"filter":"datum.p=='A2' && datum.k!='m'"}],"mark":{"type":"line","color":"#c8c8c8","strokeWidth":1},
    "encoding":{"x":{"field":"t","type":"quantitative","scale":{"domain":[-1.25,0],"nice":false,"zero":false},"axis":{"values":[-1,-0.5,0],"labelFontSize":12.5,"labelPadding":7,"grid":false},"title":null},
     "y":{"field":"v","type":"quantitative","scale":{"domain":[-20,20],"nice":false},"axis":{"values":[-20,-10,0,10,20],"grid":true,"labelAlign":"center","labelBaseline":"middle","labelPadding":22,"labelFontSize":12.5,"titleAngle":0,"titleX":-22,"titleY":89,"titleAlign":"center","titleBaseline":"middle","titleFontSize":12.5},"title":"[μV]"},"detail":{"field":"k"}}},
   {"data":{"name":"tr"},"transform":[{"filter":"datum.p=='A2' && datum.k=='m'"}],"mark":{"type":"line","color":"#0072BD","strokeWidth":3},
    "encoding":{"x":{"field":"t","type":"quantitative","title":null},"y":{"field":"v","type":"quantitative","title":"[μV]"}}},
   {"data":{"values":[{}]},"mark":{"type":"text","text":"Idle","align":"center","baseline":"middle","fontSize":15,"fontWeight":"bold","color":"#111"},"encoding":{"x":{"datum":-0.625,"type":"quantitative"},"y":{"datum":22,"type":"quantitative"}}},
   {"data":{"values":[{}]},"mark":{"type":"text","text":"➜","fontSize":28,"align":"center","baseline":"middle","color":"#000"},"encoding":{"x":{"datum":0.55,"type":"quantitative"},"y":{"datum":-3.3,"type":"quantitative"}}}
  ]},
 {"data":{"values":[{}]},"mark":{"type":"text","text":""},"encoding":{},"width":57,"height":237,"view":{"stroke":null}},
 {"width":87,"height":237,
  "layer":[
   {"data":{"name":"sh"},"transform":[{"filter":"datum.p=='B1'"}],"mark":{"type":"rect","color":"#dadada"},
    "encoding":{"x":{"field":"t","type":"quantitative","scale":{"domain":[-1.25,0],"nice":false,"zero":false},"axis":{"values":[-1,-0.5,0],"labelFontSize":12.5,"labelPadding":7,"grid":false,"titleFontSize":13,"titleX":117,"titleY":31,"titleBaseline":"middle","titleAlign":"center"},"title":"Time [sec]"},"x2":{"field":"t2"},
     "y":{"datum":-20,"type":"quantitative","scale":{"domain":[-20,20],"nice":false},"axis":{"values":[-20,-10,0,10,20],"labels":false,"grid":true},"title":null},"y2":{"datum":20}}},
   {"data":{"name":"tr"},"transform":[{"filter":"datum.p=='B1'"}],"mark":{"type":"line","color":"#A2142F","strokeWidth":1,"opacity":0.85},
    "encoding":{"x":{"field":"t","type":"quantitative","title":"Time [sec]"},"y":{"field":"v","type":"quantitative","title":null},"detail":{"field":"k"}}},
   {"data":{"values":[{}]},"mark":{"type":"text","text":"B. Before exclusion","align":"left","baseline":"middle","font":"Lato","fontSize":20,"fontWeight":"bold","color":"#111"},"encoding":{"x":{"datum":-1.22,"type":"quantitative"},"y":{"datum":27.1,"type":"quantitative"}}},
   {"data":{"values":[{}]},"mark":{"type":"text","text":"RP cue","align":"center","baseline":"middle","fontSize":15,"fontWeight":"bold","color":"#111"},"encoding":{"x":{"datum":-0.625,"type":"quantitative"},"y":{"datum":22,"type":"quantitative"}}},
   {"data":{"values":[{}]},"mark":{"type":"text","text":"➜","fontSize":30,"angle":90,"align":"center","baseline":"middle","color":"#000"},"encoding":{"x":{"datum":0.33,"type":"quantitative"},"y":{"datum":-30.5,"type":"quantitative"}}}
  ]},
 {"data":{"values":[{}]},"mark":{"type":"text","text":""},"encoding":{},"width":44,"height":237,"view":{"stroke":null}},
 {"width":87,"height":237,
  "layer":[
   {"data":{"name":"sh"},"transform":[{"filter":"datum.p=='B2'"}],"mark":{"type":"rect","color":"#dadada"},
    "encoding":{"x":{"field":"t","type":"quantitative","scale":{"domain":[-1.25,0],"nice":false,"zero":false},"axis":{"values":[-1,-0.5,0],"labelFontSize":12.5,"labelPadding":7,"grid":false},"title":null},"x2":{"field":"t2"},
     "y":{"datum":-20,"type":"quantitative","scale":{"domain":[-20,20],"nice":false},"axis":{"values":[-20,-10,0,10,20],"grid":true,"labelAlign":"center","labelBaseline":"middle","labelPadding":22,"labelFontSize":12.5,"titleAngle":0,"titleX":-22,"titleY":89,"titleAlign":"center","titleBaseline":"middle","titleFontSize":12.5},"title":"[μV]"},"y2":{"datum":20}}},
   {"data":{"name":"tr"},"transform":[{"filter":"datum.p=='B2'"}],"mark":{"type":"line","color":"#0072BD","strokeWidth":1,"opacity":0.85},
    "encoding":{"x":{"field":"t","type":"quantitative","title":null},"y":{"field":"v","type":"quantitative","title":"[μV]"},"detail":{"field":"k"}}},
   {"data":{"values":[{}]},"mark":{"type":"text","text":"No-RP cue","align":"center","baseline":"middle","fontSize":15,"fontWeight":"bold","color":"#111"},"encoding":{"x":{"datum":-0.625,"type":"quantitative"},"y":{"datum":22,"type":"quantitative"}}}
  ]},
 {"data":{"values":[{}]},"mark":{"type":"text","text":""},"encoding":{},"width":49,"height":237,"view":{"stroke":null}},
 {"width":87,"height":237,
  "layer":[
   {"data":{"name":"tr"},"transform":[{"filter":"datum.p=='D1' && datum.k!='m'"}],"mark":{"type":"line","color":"#c8c8c8","strokeWidth":1},
    "encoding":{"x":{"field":"t","type":"quantitative","scale":{"domain":[-1.25,0],"nice":false,"zero":false},"axis":{"values":[-1,-0.5,0],"labelFontSize":12.5,"labelPadding":7,"grid":false,"titleFontSize":13,"titleX":97,"titleY":31,"titleBaseline":"middle","titleAlign":"center"},"title":"Time [sec]"},
     "y":{"field":"v","type":"quantitative","scale":{"domain":[-20,20],"nice":false},"axis":{"values":[-20,-10,0,10,20],"labels":false,"grid":true},"title":null},"detail":{"field":"k"}}},
   {"data":{"name":"tr"},"transform":[{"filter":"datum.p=='D1' && datum.k=='m'"}],"mark":{"type":"line","color":"#A2142F","strokeWidth":3},
    "encoding":{"x":{"field":"t","type":"quantitative","title":"Time [sec]"},"y":{"field":"v","type":"quantitative","title":null}}},
   {"data":{"values":[{}]},"mark":{"type":"text","text":"D. After exclusion","align":"left","baseline":"middle","font":"Lato","fontSize":20,"fontWeight":"bold","color":"#111"},"encoding":{"x":{"datum":-1.25,"type":"quantitative"},"y":{"datum":27.1,"type":"quantitative"}}},
   {"data":{"values":[{}]},"mark":{"type":"text","text":"RP cue","align":"center","baseline":"middle","fontSize":15,"fontWeight":"bold","color":"#111"},"encoding":{"x":{"datum":-0.625,"type":"quantitative"},"y":{"datum":22,"type":"quantitative"}}},
   {"data":{"values":[{}]},"mark":{"type":"text","text":"➜","fontSize":28,"angle":-38,"align":"center","baseline":"middle","color":"#000"},"encoding":{"x":{"datum":-1.37,"type":"quantitative"},"y":{"datum":-27.8,"type":"quantitative"}}}
  ]},
 {"data":{"values":[{}]},"mark":{"type":"text","text":""},"encoding":{},"width":44,"height":237,"view":{"stroke":null}},
 {"width":87,"height":237,
  "layer":[
   {"data":{"name":"tr"},"transform":[{"filter":"datum.p=='D2' && datum.k!='m'"}],"mark":{"type":"line","color":"#c8c8c8","strokeWidth":1},
    "encoding":{"x":{"field":"t","type":"quantitative","scale":{"domain":[-1.25,0],"nice":false,"zero":false},"axis":{"values":[-1,-0.5,0],"labelFontSize":12.5,"labelPadding":7,"grid":false},"title":null},
     "y":{"field":"v","type":"quantitative","scale":{"domain":[-20,20],"nice":false},"axis":{"values":[-20,-10,0,10,20],"grid":true,"labelAlign":"center","labelBaseline":"middle","labelPadding":22,"labelFontSize":12.5,"titleAngle":0,"titleX":-22,"titleY":89,"titleAlign":"center","titleBaseline":"middle","titleFontSize":12.5},"title":"[μV]"},"detail":{"field":"k"}}},
   {"data":{"name":"tr"},"transform":[{"filter":"datum.p=='D2' && datum.k=='m'"}],"mark":{"type":"line","color":"#0072BD","strokeWidth":3},
    "encoding":{"x":{"field":"t","type":"quantitative","title":null},"y":{"field":"v","type":"quantitative","title":"[μV]"}}},
   {"data":{"values":[{}]},"mark":{"type":"text","text":"No-RP cue","align":"center","baseline":"middle","fontSize":15,"fontWeight":"bold","color":"#111"},"encoding":{"x":{"datum":-0.625,"type":"quantitative"},"y":{"datum":22,"type":"quantitative"}}}
  ]}
],"spacing":0,"bounds":"flush"},
{"title":{"text":"C. Exclusion procedure","anchor":"start","font":"Lato","fontSize":20,"fontWeight":"bold","color":"#111","offset":8,"dx":-7},
 "hconcat":[
  {"data":{"values":[{}]},"mark":{"type":"text","text":""},"encoding":{},"width":1,"height":227,"view":{"stroke":null}},
  {"width":728,"height":227,
   "title":{"text":"ERP amplitudes at the time of cue","fontSize":13.5,"fontWeight":"bold","offset":-3,"anchor":"middle","color":"#111"},
   "layer":[
    {"data":{"name":"sj"},"mark":{"type":"rect","stroke":"#cfd3c9","strokeWidth":1},
     "encoding":{"x":{"field":"s","type":"nominal","scale":{"domain":["2","20","18","23","21","17","19","1","12","11","16","13","6","10","14","3","8","4","5","22","15","9","7"],"paddingInner":0,"paddingOuter":0},"axis":{"labelAngle":0,"labelFontSize":14,"labelColor":"#222","labelPadding":3,"labelExpr":"datum.label"},"title":null},
      "y":{"datum":-30,"type":"quantitative","scale":{"domain":[-30,30],"nice":false},"axis":{"values":[-30,-20,-10,0,10,20,30],"labelFontSize":13.5,"labelColor":"#444","labelPadding":6,"grid":false,"titleFontSize":14,"titleColor":"#444","titlePadding":3},"title":"[μV]"},
      "y2":{"datum":30},
      "fill":{"field":"e","type":"nominal","scale":{"domain":["in","out"],"range":["#eef3e4","#fbe8e2"]},"legend":null}}},
    {"data":{"values":[{}]},"mark":{"type":"rule","strokeDash":[6,4],"color":"#555","strokeWidth":1.2},"encoding":{"y":{"datum":0,"type":"quantitative"}}},
    {"data":{"name":"bx"},"mark":{"type":"rule","strokeWidth":2,"opacity":0.45,"clip":true},
     "encoding":{"x":{"field":"s","type":"nominal","title":null},
      "xOffset":{"field":"g","type":"nominal","sort":["RP","No-RP"],"scale":{"paddingInner":0,"paddingOuter":0.44}},
      "y":{"field":"lo","type":"quantitative","title":"[μV]"},"y2":{"field":"hi"},
      "color":{"field":"g","type":"nominal","scale":{"domain":["No-RP","RP"],"range":["#0072BD","#A2142F"]},"legend":null}}},
    {"data":{"name":"bx"},"mark":{"type":"bar","size":6.5,"clip":true},
     "encoding":{"x":{"field":"s","type":"nominal","title":null},
      "xOffset":{"field":"g","type":"nominal","sort":["RP","No-RP"]},
      "y":{"field":"q1","type":"quantitative","title":"[μV]"},"y2":{"field":"q3"},
      "color":{"field":"g","type":"nominal","legend":null}}},
    {"data":{"name":"ol"},"mark":{"type":"point","shape":"cross","filled":true,"size":14,"opacity":0.55},
     "encoding":{"x":{"field":"s","type":"nominal","title":null},
      "xOffset":{"field":"g","type":"nominal","sort":["RP","No-RP"]},
      "y":{"field":"v","type":"quantitative","title":"[μV]"},
      "color":{"field":"g","type":"nominal","legend":null}}},
    {"data":{"name":"bx"},"mark":{"type":"point","shape":"circle","filled":true,"fill":"white","stroke":"#666","strokeWidth":0.8,"size":55,"opacity":1},
     "encoding":{"x":{"field":"s","type":"nominal","title":null},
      "xOffset":{"field":"g","type":"nominal","sort":["RP","No-RP"]},
      "y":{"field":"md","type":"quantitative","title":"[μV]"}}},
    {"data":{"name":"bx"},"mark":{"type":"point","shape":"circle","filled":true,"color":"#000","size":6,"opacity":1},
     "encoding":{"x":{"field":"s","type":"nominal","title":null},
      "xOffset":{"field":"g","type":"nominal","sort":["RP","No-RP"]},
      "y":{"field":"md","type":"quantitative","title":"[μV]"}}},
    {"data":{"values":[{}]},"mark":{"type":"point","shape":"M-1,0H1","size":961,"filled":false,"strokeWidth":6,"color":"#0072BD","opacity":1},"encoding":{"x":{"datum":"16","type":"nominal","bandPosition":0.85},"y":{"datum":23.9,"type":"quantitative"}}},
    {"data":{"values":[{}]},"mark":{"type":"point","shape":"M-1,0H1","size":961,"filled":false,"strokeWidth":6,"color":"#A2142F","opacity":1},"encoding":{"x":{"datum":"16","type":"nominal","bandPosition":0.85},"y":{"datum":19.6,"type":"quantitative"}}},
    {"data":{"values":[{}]},"mark":{"type":"text","text":"No-RP","align":"left","baseline":"middle","fontSize":13,"color":"#333"},"encoding":{"x":{"datum":"13","type":"nominal","bandPosition":0.4},"y":{"datum":23.9,"type":"quantitative"}}},
    {"data":{"values":[{}]},"mark":{"type":"text","text":"RP","align":"left","baseline":"middle","fontSize":13,"color":"#333"},"encoding":{"x":{"datum":"13","type":"nominal","bandPosition":0.4},"y":{"datum":19.6,"type":"quantitative"}}}
   ]}
 ],"spacing":31,"bounds":"flush"}
],"spacing":-27
}
